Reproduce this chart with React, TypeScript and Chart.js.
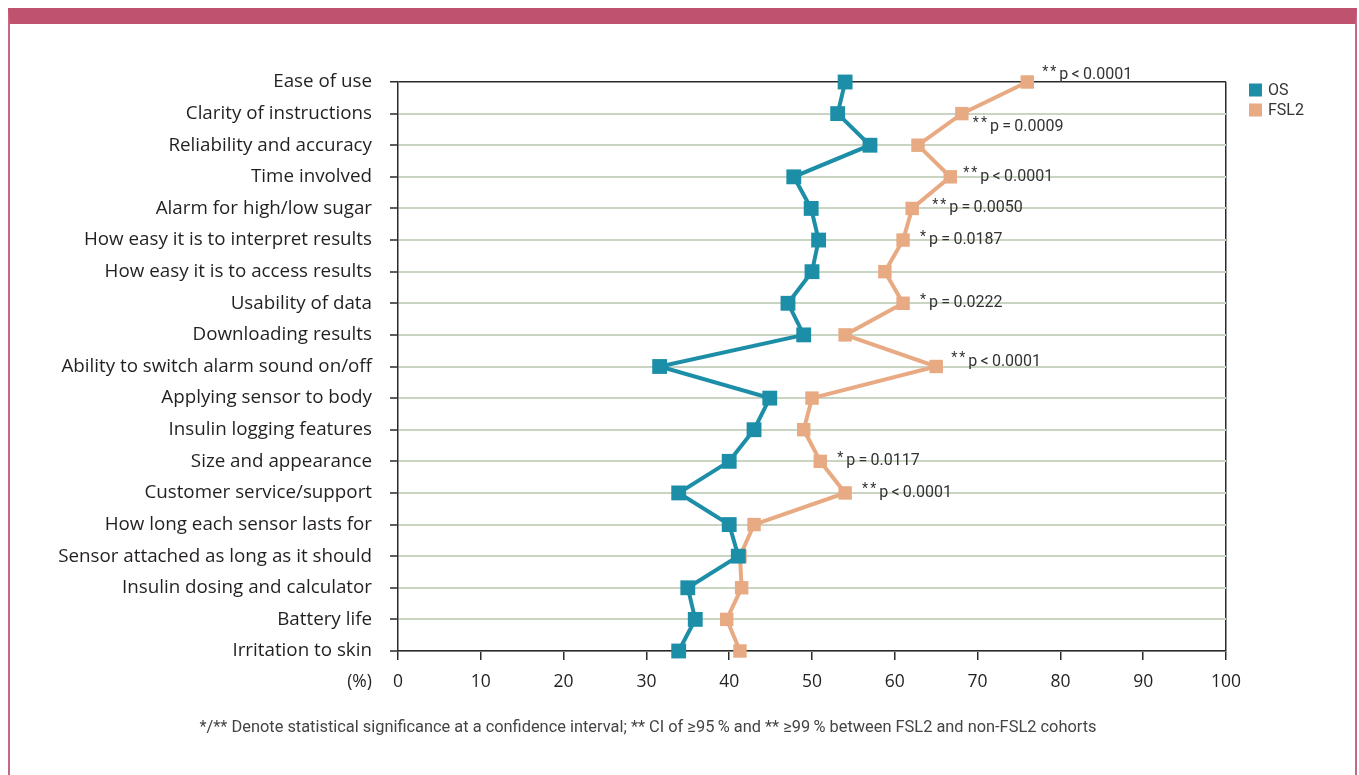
import React, { useEffect, useRef } from 'react';
import { Chart, registerables } from 'chart.js';

Chart.register(...registerables);

const categories = [
  'Ease of use',
  'Clarity of instructions',
  'Reliability and accuracy',
  'Time involved',
  'Alarm for high/low sugar',
  'How easy it is to interpret results',
  'How easy it is to access results',
  'Usability of data',
  'Downloading results',
  'Ability to switch alarm sound on/off',
  'Applying sensor to body',
  'Insulin logging features',
  'Size and appearance',
  'Customer service/support',
  'How long each sensor lasts for',
  'Sensor attached as long as it should',
  'Insulin dosing and calculator',
  'Battery life',
  'Irritation to skin',
];

const osValues = [54.0, 53.1, 57.0, 47.8, 49.9, 50.8, 50.0, 47.1, 49.0, 31.6, 44.9, 43.0, 40.0, 33.9, 40.0, 41.1, 35.0, 35.9, 33.9];
const fsl2Values = [76.0, 68.1, 62.8, 66.7, 62.1, 61.0, 58.8, 61.0, 54.0, 65.0, 50.0, 49.0, 51.0, 54.0, 43.0, 41.3, 41.5, 39.7, 41.3];

const seriesNames = ['OS', 'FSL2'];
const xTickValues = [0, 10, 20, 30, 40, 50, 60, 70, 80, 90, 100];
const axisUnit = '(%)';

const sigStars = ['**', '**', '', '**', '**', '*', '', '*', '', '**', '', '', '*', '**', '', '', '', '', ''];
const sigText = [
  'p\u2009<\u20090.0001',
  'p\u2009=\u20090.0009',
  '',
  'p\u2009<\u20090.0001',
  'p\u2009=\u20090.0050',
  'p\u2009=\u20090.0187',
  '',
  'p\u2009=\u20090.0222',
  '',
  'p\u2009<\u20090.0001',
  '',
  '',
  'p\u2009=\u20090.0117',
  'p\u2009<\u20090.0001',
  '',
  '',
  '',
  '',
  '',
];

const footnote =
  '*/** Denote statistical significance at a confidence interval; ** CI of \u226595\u2009% and ** \u226599\u2009% between FSL2 and non-FSL2 cohorts';

const TEAL = '#1d8ea7';
const ORANGE = '#e8aa82';
const GRID = '#c9d4c3';
const DARK = '#2a2a2a';
const TEXT = '#231f20';
const FONT = 'Roboto, "Noto Sans", sans-serif';
const LABEL_FONT = '"Open Sans", Roboto, sans-serif';

// label placement tweaks (styling only)
const labelOffsets: Record<number, [number, number]> = {
  0: [15, -7],
  1: [11, 13],
  3: [13, 0],
  4: [20, 0],
  9: [15, -5],
};

const overlayPlugin = {
  id: 'overlay',
  afterDraw(chart: any) {
    const ctx = chart.ctx as CanvasRenderingContext2D;
    const area = chart.chartArea;
    ctx.save();

    // significance labels
    const meta = chart.getDatasetMeta(1);
    meta.data.forEach((pt: any, i: number) => {
      if (!sigText[i]) return;
      const [dx, dy] = labelOffsets[i] || [17, 0];
      const x = pt.x + dx;
      const y = pt.y + dy;
      ctx.fillStyle = '#333';
      ctx.textBaseline = 'middle';
      ctx.textAlign = 'left';
      ctx.font = `14px ${FONT}`;
      let sx = x;
      for (const ch of sigStars[i]) {
        ctx.fillText(ch, sx, y - 3);
        sx += ctx.measureText(ch).width + 2;
      }
      ctx.font = `16px ${FONT}`;
      ctx.fillText(sigText[i], sx + 1, y);
    });

    // legend
    const lx = area.right + 23;
    [TEAL, ORANGE].forEach((c, i) => {
      const cy = area.top + 8 + i * 20;
      ctx.fillStyle = c;
      ctx.fillRect(lx, cy - 6.5, 13, 13);
      ctx.fillStyle = '#333';
      ctx.font = `16px ${FONT}`;
      ctx.textAlign = 'left';
      ctx.textBaseline = 'middle';
      ctx.fillText(seriesNames[i], lx + 19, cy + 1);
    });

    // axis unit
    ctx.fillStyle = TEXT;
    ctx.font = `17.5px ${LABEL_FONT}`;
    ctx.textAlign = 'right';
    ctx.textBaseline = 'middle';
    ctx.fillText(axisUnit, area.left - 26, area.bottom + 31);

    // footnote
    ctx.fillStyle = '#444';
    ctx.font = `16.5px ${FONT}`;
    ctx.textAlign = 'center';
    ctx.textBaseline = 'middle';
    ctx.fillText(footnote, 638, 704, 897);

    ctx.restore();
  },
};

export default function App() {
  const canvasRef = useRef<HTMLCanvasElement | null>(null);

  useEffect(() => {
    const canvas = canvasRef.current;
    if (!canvas) return;
    const chart = new Chart(canvas, {
      type: 'line',
      data: {
        labels: categories,
        datasets: [
          {
            label: seriesNames[0],
            data: osValues,
            borderColor: TEAL,
            backgroundColor: TEAL,
            borderWidth: 4,
            pointStyle: 'rect',
            pointRadius: 10.5,
            pointBorderWidth: 0,
            clip: false as any,
          },
          {
            label: seriesNames[1],
            data: fsl2Values,
            borderColor: ORANGE,
            backgroundColor: ORANGE,
            borderWidth: 4,
            pointStyle: 'rect',
            pointRadius: 9.5,
            pointBorderWidth: 0,
            clip: false as any,
          },
        ],
      },
      options: {
        indexAxis: 'y',
        animation: false,
        responsive: false,
        layout: { padding: { top: 58, right: 129, left: 0, bottom: 0 } },
        plugins: {
          legend: { display: false },
          tooltip: { enabled: false },
        },
        scales: {
          x: {
            type: 'linear',
            min: 0,
            max: 100,
            afterBuildTicks: (s: any) => {
              s.ticks = xTickValues.map((v) => ({ value: v }));
            },
            afterFit: (s: any) => {
              s.height = 124;
            },
            ticks: {
              font: { family: LABEL_FONT, size: 17.5 },
              color: TEXT,
              padding: 12,
            },
            grid: {
              color: (c: any) => (c.tick && c.tick.value === 100 ? DARK : 'rgba(0,0,0,0)'),
              lineWidth: 1.5,
              tickColor: DARK,
              tickLength: 9,
              tickWidth: 1.5,
            },
            border: { color: DARK, width: 1.5 },
          },
          y: {
            type: 'category',
            offset: false,
            afterFit: (s: any) => {
              s.width = 388;
            },
            ticks: {
              font: { family: LABEL_FONT, size: 18.8 },
              color: TEXT,
              padding: 18,
              autoSkip: false,
            },
            grid: {
              color: (c: any) => (c.index === 0 ? DARK : GRID),
              lineWidth: (c: any) => (c.index === 0 ? 1.5 : 2),
              tickColor: DARK,
              tickLength: 8,
              tickWidth: 1.5,
            },
            border: { color: DARK, width: 1.5 },
          },
        },
      },
      plugins: [overlayPlugin],
    });
    return () => chart.destroy();
  }, []);

  return (
    <div
      style={{
        position: 'fixed',
        left: 8,
        right: 2,
        top: 8,
        bottom: 0,
        borderTop: '16px solid #be526f',
        borderLeft: '2px solid #c96683',
        borderRight: '2px solid #c96683',
        background: '#fff',
        overflow: 'hidden',
      }}
    >
      <canvas ref={canvasRef} width={1345} height={751} style={{ display: 'block' }} />
    </div>
  );
}
